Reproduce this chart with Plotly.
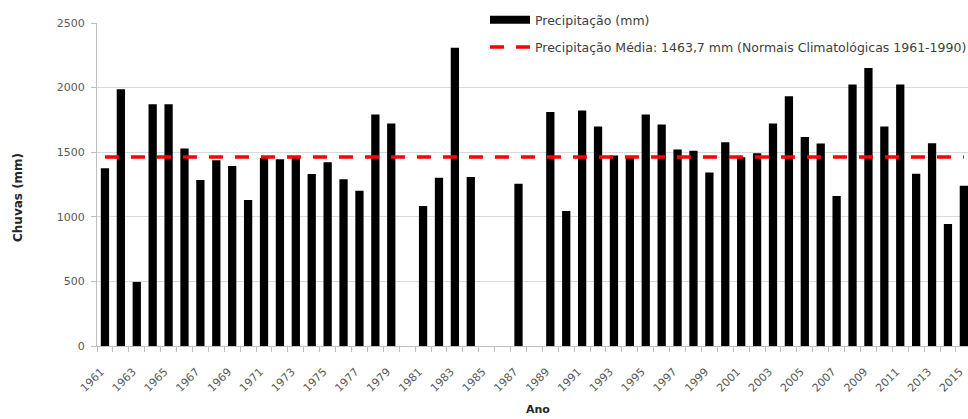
import plotly.graph_objects as go

years = list(range(1961, 2016))
precip = [1375, 1988, 496, 1872, 1872, 1528, 1285, 1437, 1393, 1130,
          1455, 1445, 1465, 1331, 1422, 1290, 1202, 1792, 1722, None,
          1083, 1303, 2309, 1308, None, None, 1256, None, 1812, 1044,
          1823, 1699, 1474, 1455, 1792, 1714, 1520, 1512, 1342, 1577,
          1461, 1492, 1722, 1934, 1618, 1567, 1161, 2024, 2151, 1699,
          2024, 1334, 1569, 944, 1241]
mean_years = [1961, 2015]
mean_values = [1463.7, 1463.7]
tick_years = list(range(1961, 2016, 2))

font_family = "DejaVu Sans, sans-serif"

W, H = 968, 419
L = 97
T = 23
B = H - 346
R = 0
PW = W - L - R
PH = H - T - B


def px_to_paper_x(px):
    return (px - L) / PW


def px_to_paper_y(py):
    return (H - B - py) / PH


fig = go.Figure()
fig.add_trace(go.Bar(
    x=years, y=precip, name="Precipitação (mm)",
    marker=dict(color="black", line=dict(width=0)),
    showlegend=False,
))
# legend entry for the bars (wide black rectangle as in the original)
fig.add_trace(go.Scatter(
    x=[None], y=[None], mode="lines", name="Precipitação (mm)",
    line=dict(color="black", width=8),
    legendgroup="a",
))
fig.add_trace(go.Scatter(
    x=mean_years, y=mean_values, mode="lines",
    name="Precipitação Média: 1463,7 mm (Normais Climatológicas 1961-1990)",
    line=dict(color="#FF0000", width=3.5, dash="14px,12px"),
    legendgroup="b",
))

fig.update_layout(
    width=W, height=H,
    margin=dict(l=L, r=R, t=T, b=B, autoexpand=False),
    plot_bgcolor="white", paper_bgcolor="white",
    bargap=0.48,
    font=dict(family=font_family, size=12, color="#404040"),
    showlegend=True,
    legend=dict(
        x=px_to_paper_x(485), y=px_to_paper_y(5), xanchor="left", yanchor="top",
        bgcolor="white", font=dict(size=12.5, color="#404040"),
        tracegroupgap=8, itemwidth=40,
    ),
    xaxis=dict(
        range=[1960.5, 2015.26], automargin=False,
        tickmode="array", tickvals=tick_years,
        ticktext=[str(y) for y in tick_years],
        tickangle=-45, ticks="", ticklabelstandoff=14, ticklabelshift=-4,
        ticklabeloverflow="allow",
        tickfont=dict(size=11, color="#595959"),
        showgrid=False, showline=True, linecolor="#bfbfbf", linewidth=1,
        minor=dict(ticks="outside", tick0=1960.5, dtick=1, ticklen=5,
                   tickcolor="#bfbfbf", showgrid=False),
        zeroline=False,
    ),
    yaxis=dict(
        range=[0, 2500], automargin=False,
        tickvals=[0, 500, 1000, 1500, 2000, 2500],
        tickfont=dict(size=11, color="#595959"),
        showgrid=True, gridcolor="#d9d9d9", gridwidth=1,
        showline=True, linecolor="#bfbfbf", linewidth=1,
        ticks="outside", ticklen=5, tickcolor="#bfbfbf", ticklabelstandoff=4,
        zeroline=False,
    ),
    annotations=[
        dict(text="<b>Chuvas (mm)</b>", textangle=-90, showarrow=False,
             xref="paper", yref="paper", x=px_to_paper_x(18), y=px_to_paper_y(198),
             xanchor="center", yanchor="middle",
             font=dict(size=12, color="#262626")),
        dict(text="<b>Ano</b>", showarrow=False,
             xref="paper", yref="paper", x=px_to_paper_x(538), y=px_to_paper_y(409),
             xanchor="center", yanchor="middle",
             font=dict(size=11, color="#262626")),
    ],
)

fig.write_html(
    "out.html",
    config={"displayModeBar": False},
    post_script="document.body.style.margin='0';document.body.style.overflow='hidden';",
)
